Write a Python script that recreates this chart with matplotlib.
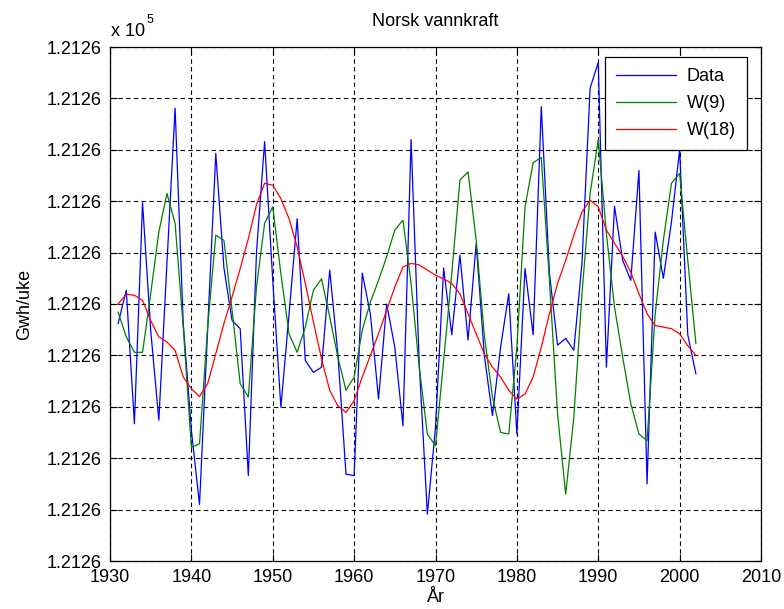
import numpy as np
import matplotlib
matplotlib.use("Agg")
import matplotlib.pyplot as plt

plt.rcParams['font.family'] = ['Liberation Sans', 'DejaVu Sans']

# yearly values, in grid units (axis only shows 1.2126 x 10^5 at every tick)
years = list(range(1931, 2003))

data = [4.62, 5.27, 2.67, 6.97, 4.49, 2.74, 5.8, 8.81, 4.62, 2.54,
        1.1, 4.5, 7.93, 5.7, 4.68, 4.52, 1.66, 6.0, 8.16, 5.46,
        2.99, 4.8, 6.66, 3.9, 3.67, 3.77, 5.66, 4.03, 1.69, 1.66,
        5.6, 4.8, 3.15, 5.0, 4.16, 2.63, 8.2, 3.84, 0.91, 2.6,
        5.7, 4.4, 5.95, 4.3, 6.18, 4.0, 2.83, 4.16, 5.2, 2.47,
        5.69, 4.4, 8.84, 5.6, 4.2, 4.33, 4.1, 5.8, 9.2, 9.7,
        3.77, 6.9, 5.85, 5.46, 7.6, 1.5, 6.4, 5.5, 6.6, 8.0,
        4.4, 3.64]

w9 = [4.84, 4.36, 4.06, 4.06, 5.2, 6.4, 7.15, 6.57, 4.55, 2.21,
      2.28, 4.55, 6.34, 6.24, 4.88, 3.45, 3.19, 5.33, 6.57, 6.89,
      5.59, 4.42, 4.06, 4.55, 5.27, 5.49, 4.75, 3.97, 3.32, 3.58,
      4.49, 5.04, 5.46, 5.92, 6.44, 6.63, 5.4, 3.77, 2.47, 2.24,
      3.9, 5.59, 7.41, 7.57, 6.24, 4.39, 3.19, 2.5, 2.47, 4.16,
      6.89, 7.75, 7.85, 5.46, 2.86, 1.3, 2.8, 5.2, 7.15, 8.2,
      6.37, 4.94, 3.97, 3.06, 2.47, 2.34, 4.81, 6.24, 7.35, 7.54,
      5.85, 4.23]

w18 = [5.0, 5.19, 5.17, 5.07, 4.68, 4.36, 4.26, 4.10, 3.58, 3.35,
       3.2, 3.45, 4.03, 4.62, 5.14, 5.69, 6.27, 6.93, 7.35, 7.31,
       7.05, 6.66, 6.11, 5.4, 4.65, 3.93, 3.32, 3.02, 2.89, 3.12,
       3.58, 4.0, 4.42, 4.88, 5.33, 5.72, 5.79, 5.76, 5.66, 5.56,
       5.49, 5.4, 5.2, 4.81, 4.42, 4.03, 3.77, 3.58, 3.32, 3.15,
       3.25, 3.58, 4.16, 4.81, 5.4, 5.85, 6.34, 6.79, 7.02, 6.89,
       6.44, 6.18, 5.93, 5.62, 5.2, 4.81, 4.58, 4.55, 4.52, 4.42,
       4.19, 4.0]

xticks = [1930, 1940, 1950, 1960, 1970, 1980, 1990, 2000, 2010]
yticks = list(range(0, 11))
ytick_labels = ["1.2126"] * len(yticks)

fig = plt.figure(figsize=(7.84, 6.09), dpi=100)
ax = fig.add_axes([110 / 784, 48 / 609, 651 / 784, 514 / 609])

ax.plot(years, data, color=(0, 0, 1), lw=0.9, label="Data")
ax.plot(years, w9, color=(0, 0.5, 0), lw=0.9, label="W(9)")
ax.plot(years, w18, color=(1, 0, 0), lw=0.9, label="W(18)")

ax.set_xlim(1930, 2010)
ax.set_ylim(0, 10)
ax.set_xticks(xticks)
ax.set_yticks(yticks)
ax.set_yticklabels(ytick_labels)
ax.tick_params(direction="in", length=5, width=0.8, labelsize=13,
               top=True, right=True, pad=6)
ax.grid(True, color="black", linestyle=(0, (4, 3)), linewidth=0.8)
for s in ax.spines.values():
    s.set_linewidth(0.9)

ax.set_title("Norsk vannkraft", fontsize=13, pad=15)
ax.set_xlabel("År", fontsize=13, labelpad=2)
ax.set_ylabel("Gwh/uke", fontsize=13, labelpad=10)

fig.text(111 / 784, 1 - 36 / 609, "x 10", fontsize=13, ha="left", va="baseline")
fig.text(147 / 784, 1 - 23 / 609, "5", fontsize=9, ha="left", va="baseline")

leg = ax.legend(loc="upper right", bbox_to_anchor=(747 / 784, 1 - 57 / 609),
                bbox_transform=fig.transFigure, borderaxespad=0, fontsize=13,
                fancybox=False, framealpha=1, edgecolor="black",
                handlelength=3.3, handletextpad=0.6, borderpad=0.62,
                labelspacing=0.55)
leg.get_frame().set_linewidth(0.9)

plt.savefig("out.png", dpi=100)
